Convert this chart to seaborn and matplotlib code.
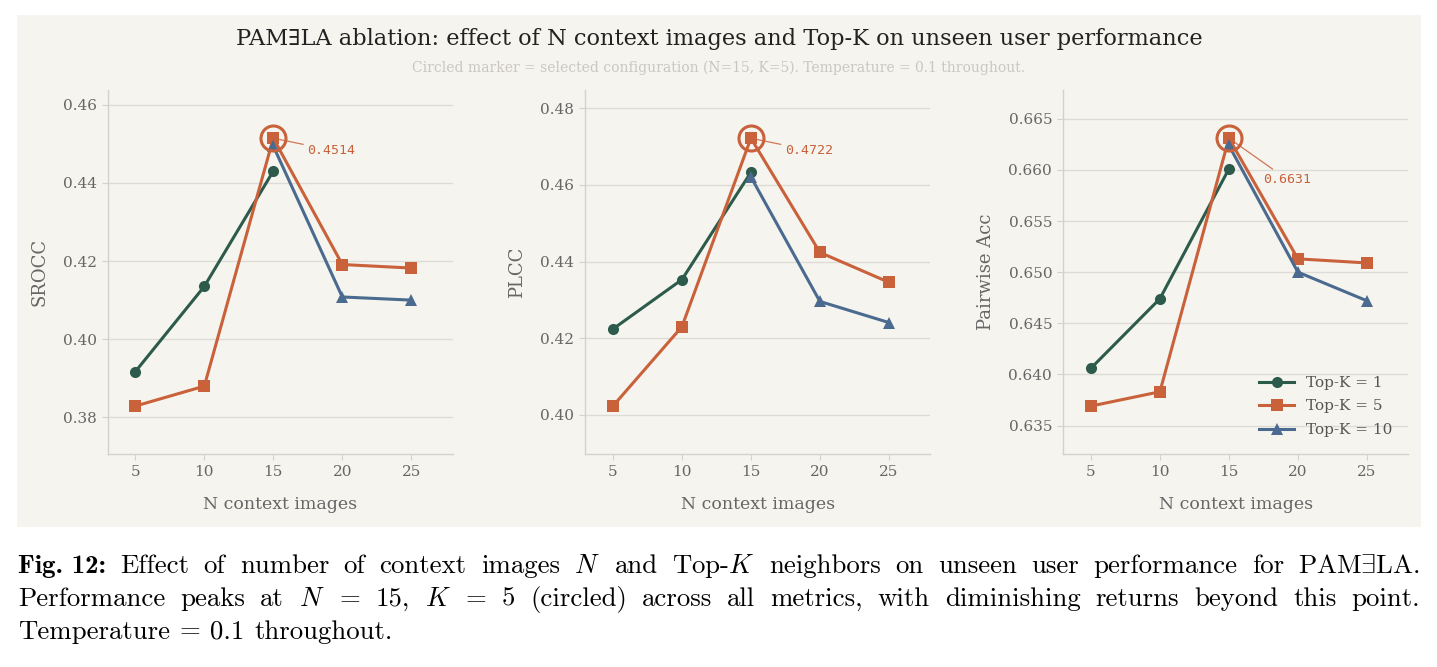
import numpy as np
import pandas as pd
import matplotlib
matplotlib.use('Agg')
import matplotlib.pyplot as plt
import seaborn as sns

# values
n_context = [5, 10, 15, 20, 25]
topk_labels = ['Top-K = 1', 'Top-K = 5', 'Top-K = 10']

srocc_k1 = [0.3917, 0.4135, 0.4430, np.nan, np.nan]
srocc_k5 = [0.3829, 0.3880, 0.4514, 0.4191, 0.4182]
srocc_k10 = [np.nan, np.nan, 0.4494, 0.4108, 0.4100]

plcc_k1 = [0.4224, 0.4353, 0.4633, np.nan, np.nan]
plcc_k5 = [0.4023, 0.4230, 0.4722, 0.4424, 0.4346]
plcc_k10 = [np.nan, np.nan, 0.4621, 0.4296, 0.4241]

acc_k1 = [0.6406, 0.6474, 0.6601, np.nan, np.nan]
acc_k5 = [0.6369, 0.6383, 0.6631, 0.6513, 0.6509]
acc_k10 = [np.nan, np.nan, 0.6624, 0.6500, 0.6472]

metrics = ['SROCC', 'PLCC', 'Pairwise Acc']
series = {
    'SROCC': [srocc_k1, srocc_k5, srocc_k10],
    'PLCC': [plcc_k1, plcc_k5, plcc_k10],
    'Pairwise Acc': [acc_k1, acc_k5, acc_k10],
}
yticks = {
    'SROCC': [0.38, 0.40, 0.42, 0.44, 0.46],
    'PLCC': [0.40, 0.42, 0.44, 0.46, 0.48],
    'Pairwise Acc': [0.635, 0.640, 0.645, 0.650, 0.655, 0.660, 0.665],
}

green = '#2c5a4b'
orange = '#c9613a'
blue = '#4a6a8f'
bg = '#f5f4ef'
palette = dict(zip(topk_labels, [green, orange, blue]))
markers = dict(zip(topk_labels, ['o', 's', '^']))

plt.rcParams['font.family'] = ['DejaVu Serif', 'DejaVu Sans']
plt.rcParams['mathtext.fontset'] = 'cm'

W, H = 1437, 667
fig = plt.figure(figsize=(W / 100, H / 100), dpi=100, facecolor='white')

# beige panel behind the chart
fig.patches.append(plt.Rectangle((17 / W, 1 - 527 / H), 1404 / W, 512 / H,
                                 transform=fig.transFigure, facecolor=bg,
                                 edgecolor='none', zorder=-10))

fig.text(719 / W, 1 - 38.5 / H,
         'PAM\u2203LA ablation: effect of N context images and Top-K on unseen user performance',
         ha='center', va='center', fontsize=16.2, color='#222222')
fig.text(718 / W, 1 - 68 / H,
         'Circled marker = selected configuration (N=15, K=5). Temperature = 0.1 throughout.',
         ha='center', va='center', fontsize=10, color='#c9c7c0')

lefts = [107.7, 585.3, 1063.3]
for i, metric in enumerate(metrics):
    ax = fig.add_axes([lefts[i] / W, 1 - 454.3 / H, 345 / W, 364.3 / H])
    ax.set_facecolor(bg)

    rows = []
    for lab, vals in zip(topk_labels, series[metric]):
        for n, v in zip(n_context, vals):
            if not np.isnan(v):
                rows.append({'N': n, 'value': v, 'config': lab})
    df = pd.DataFrame(rows)

    sns.lineplot(data=df, x='N', y='value', hue='config', style='config',
                 hue_order=topk_labels, style_order=topk_labels,
                 palette=palette, markers=markers, dashes=False,
                 linewidth=2.2, markersize=8, markeredgewidth=0,
                 legend=(i == 2), ax=ax)

    # circle the selected config (N=15, K=5)
    k5 = series[metric][1]
    peak = k5[n_context.index(15)]
    ax.plot([15], [peak], marker='o', markersize=18, mfc='none', mec=orange,
            mew=2.2, zorder=5)
    off = (24.5, -8.6) if i < 2 else (24.5, -29.5)
    ax.annotate(f'{peak:.4f}', xy=(15, peak), xytext=off, textcoords='offset points',
                ha='left', va='center', family='DejaVu Sans Mono', fontsize=9.5,
                color=orange,
                arrowprops=dict(arrowstyle='-', color=orange, lw=0.9, alpha=0.85,
                                shrinkA=1, shrinkB=4))

    allv = [v for vals in series[metric] for v in vals if not np.isnan(v)]
    lo, hi = min(allv), max(allv)
    pad = 0.18 * (hi - lo)
    ax.set_ylim(lo - pad, hi + pad)
    ax.set_xlim(3, 28)
    ax.set_xticks(n_context)
    ax.set_yticks(yticks[metric])
    if metric == 'Pairwise Acc':
        ax.set_yticklabels([f'{t:.3f}' for t in yticks[metric]])
    else:
        ax.set_yticklabels([f'{t:.2f}' for t in yticks[metric]])

    ax.grid(True, axis='y', color='#dddbd5', linewidth=1)
    ax.grid(False, axis='x')
    ax.set_axisbelow(True)
    for s in ['top', 'right']:
        ax.spines[s].set_visible(False)
    for s in ['left', 'bottom']:
        ax.spines[s].set_color('#d3d1ca')
        ax.spines[s].set_linewidth(1)
    ax.tick_params(colors='#d3d1ca', labelcolor='#666666', labelsize=11, length=4.5)
    ax.set_xlabel('N context images', fontsize=12.5, color='#666666', labelpad=12)
    ax.set_ylabel(metric, fontsize=13, color='#666666', labelpad=10)

    if i == 2:
        sns.move_legend(ax, 'lower right', frameon=False, title=None, fontsize=11,
                        handlelength=2.3, labelspacing=0.62, labelcolor='#555555',
                        bbox_to_anchor=(0.995, 0.01))

# caption, justified like the paper
CAP = 19.3
renderer = fig.canvas.get_renderer()


def caption_line(words, y_px, justify=True):
    arts = []
    for w in words:
        if isinstance(w, tuple):
            t = fig.text(0, 1 - y_px / H, w[0], family='cmb10', fontsize=CAP,
                         va='baseline', color='black')
        else:
            t = fig.text(0, 1 - y_px / H, w, family='cmr10', fontsize=CAP,
                         va='baseline', color='black')
        arts.append(t)
    widths = [a.get_window_extent(renderer=renderer).width for a in arts]
    x0, x1 = 18, 1420
    if justify:
        gap = (x1 - x0 - sum(widths)) / (len(arts) - 1)
    else:
        gap = CAP * 100 / 72 * 0.36
    x = x0
    for a, wd in zip(arts, widths):
        a.set_x(x / W)
        x += wd + gap


caption_line([('Fig. 12:',), 'Effect', 'of', 'number', 'of', 'context', 'images', '$N$',
              'and', 'Top-$K$', 'neighbors', 'on', 'unseen', 'user', 'performance', 'for',
              r'PAM$\exists$LA.'], 573)
caption_line(['Performance', 'peaks', 'at', '$N$', '=', '15,', '$K$', '=', '5',
              '(circled)', 'across', 'all', 'metrics,', 'with', 'diminishing', 'returns',
              'beyond', 'this', 'point.'], 606)
caption_line(['Temperature', '=', '0.1', 'throughout.'], 638.5, justify=False)

fig.savefig('out.png', dpi=100, facecolor='white')
